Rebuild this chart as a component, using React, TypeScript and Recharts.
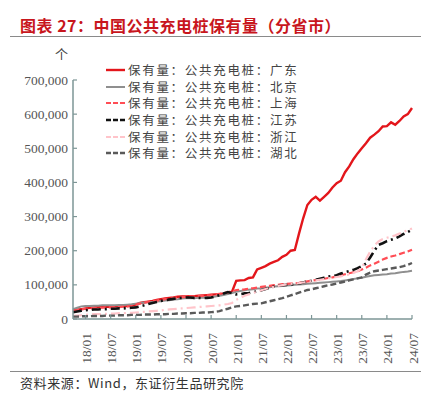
import React from 'react';
import { LineChart, Line, XAxis, YAxis } from 'recharts';

const months = [
  '17/10','17/11','17/12',
  '18/01','18/02','18/03','18/04','18/05','18/06','18/07','18/08','18/09','18/10','18/11','18/12',
  '19/01','19/02','19/03','19/04','19/05','19/06','19/07','19/08','19/09','19/10','19/11','19/12',
  '20/01','20/02','20/03','20/04','20/05','20/06','20/07','20/08','20/09','20/10','20/11','20/12',
  '21/01','21/02','21/03','21/04','21/05','21/06','21/07','21/08','21/09','21/10','21/11','21/12',
  '22/01','22/02','22/03','22/04','22/05','22/06','22/07','22/08','22/09','22/10','22/11','22/12',
  '23/01','23/02','23/03','23/04','23/05','23/06','23/07','23/08','23/09','23/10','23/11','23/12',
  '24/01','24/02','24/03','24/04','24/05','24/06','24/07',
];

const tickLabels = ['18/01','18/07','19/01','19/07','20/01','20/07','21/01','21/07','22/01','22/07','23/01','23/07','24/01','24/07'];
const yTicks = [0, 100, 200, 300, 400, 500, 600, 700];

// values in thousands of piles
const guangdong = [
  25, 27, 29,
  31, 33, 34, 35, 35, 36, 36, 37, 37, 38, 38, 39,
  42, 47, 49, 51, 53, 56, 58, 60, 62, 63, 65, 66,
  66, 67, 67, 68, 69, 70, 71, 72, 73, 74, 75, 80,
  112, 113, 114, 120, 122, 145, 150, 155, 162, 167, 172, 182,
  188, 200, 202, 250, 295, 334, 349, 358, 347, 358, 369, 385,
  398, 405, 430, 447, 468, 485, 500, 515, 531, 540, 550, 564,
  565, 576, 569, 580, 593, 600, 618,
];
const beijing = [
  29, 33, 37,
  38, 38, 39, 39, 40, 40, 40, 40, 41, 41, 42, 43,
  45, 47, 48, 49, 50, 51, 52, 54, 55, 57, 58, 60,
  61, 61, 61, 62, 62, 63, 64, 66, 68, 70, 73, 76,
  80, 82, 84, 86, 87, 89, 90, 92, 93, 95, 96, 97,
  98, 99, 100, 101, 102, 103, 104, 105, 106, 107, 108, 109,
  110, 111, 113, 115, 117, 119, 121, 124, 126, 128, 129, 130,
  131, 133, 134, 136, 138, 139, 141,
];
const shanghai = [
  24, 26, 28,
  30, 31, 32, 33, 33, 34, 34, 35, 35, 36, 37, 38,
  42, 45, 48, 50, 52, 54, 56, 58, 60, 62, 63, 64,
  65, 66, 66, 67, 68, 69, 70, 72, 74, 76, 78, 82,
  85, 86, 87, 89, 90, 92, 94, 96, 97, 99, 100, 102,
  103, 104, 105, 106, 108, 110, 112, 114, 116, 118, 120, 122,
  125, 128, 131, 134, 137, 140, 145, 150, 157, 162, 168, 174,
  179, 183, 186, 190, 194, 198, 203,
];
const jiangsu = [
  20, 22, 24,
  26, 27, 28, 28, 29, 29, 30, 30, 31, 31, 32, 33,
  34, 37, 40, 44, 47, 50, 53, 55, 57, 59, 61, 62,
  63, 63, 62, 62, 61, 62, 63, 66, 70, 75, 79, 76,
  72, 73, 75, 76, 78, 81, 84, 88, 92, 95, 97, 99,
  100, 101, 102, 104, 107, 110, 112, 115, 118, 121, 124, 126,
  128, 133, 137, 140, 144, 149, 155, 162, 180, 200, 217, 222,
  228, 232, 236, 242, 249, 255, 261,
];
const zhejiang = [
  9, 10, 11,
  12, 13, 14, 14, 15, 15, 16, 16, 17, 17, 18, 18,
  19, 20, 21, 22, 23, 24, 25, 27, 28, 29, 30, 31,
  32, 33, 34, 35, 36, 37, 38, 39, 40, 42, 44, 47,
  56, 62, 68, 72, 76, 80, 84, 88, 91, 94, 97, 99,
  101, 103, 104, 105, 107, 109, 111, 113, 115, 117, 119, 121,
  123, 125, 128, 131, 135, 140, 150, 175, 197, 215, 227, 234,
  238, 241, 245, 250, 255, 260, 265,
];
const hubei = [
  7, 7, 8,
  8, 8, 9, 9, 9, 10, 10, 10, 11, 11, 11, 12,
  12, 12, 13, 13, 13, 14, 14, 14, 15, 15, 16, 16,
  17, 17, 18, 18, 19, 19, 20, 21, 23, 27, 30, 34,
  37, 38, 40, 42, 44, 45, 46, 49, 52, 55, 58, 61,
  65, 69, 73, 77, 81, 85, 87, 90, 93, 96, 99, 101,
  104, 107, 110, 113, 116, 119, 122, 130, 136, 140, 142, 144,
  146, 148, 150, 152, 155, 159, 164,
];

const series = [
  { key: 'gd', name: '保有量：公共充电桩：广东', values: guangdong, color: '#e3161b', width: 2.4, dash: undefined },
  { key: 'bj', name: '保有量：公共充电桩：北京', values: beijing, color: '#8f8f8f', width: 2, dash: undefined },
  { key: 'sh', name: '保有量：公共充电桩：上海', values: shanghai, color: '#ff4d55', width: 2.2, dash: '6 3' },
  { key: 'js', name: '保有量：公共充电桩：江苏', values: jiangsu, color: '#111111', width: 2.6, dash: '9 4 2 4' },
  { key: 'zj', name: '保有量：公共充电桩：浙江', values: zhejiang, color: '#ffc4ca', width: 2.2, dash: '9 4 2 4' },
  { key: 'hb', name: '保有量：公共充电桩：湖北', values: hubei, color: '#5a5a5a', width: 2.4, dash: '6 3' },
];

const data = months.map((m, i) => {
  const row: Record<string, number | string> = { month: m };
  series.forEach((s) => { row[s.key] = s.values[i]; });
  return row;
});

const AXIS_COLOR = '#7d9696';
const SERIF = '"Liberation Serif", "DejaVu Serif", serif';
const CJK = '"Noto Sans CJK SC", "Noto Sans", sans-serif';

const YTick = (props: any) => {
  const { x, y, payload } = props;
  const label = (payload.value * 1000).toLocaleString('en-US');
  return (
    <g>
      <line x1={x} y1={y} x2={x + 4} y2={y} stroke={AXIS_COLOR} strokeWidth={1.2} />
      <text x={x - 5} y={y} textAnchor="end" dominantBaseline="central" fontFamily={SERIF} fontSize={13.5} fill="#555">
        {label}
      </text>
    </g>
  );
};

const XTick = (props: any) => {
  const { x, y, payload } = props;
  return (
    <g>
      <line x1={x} y1={y} x2={x} y2={y - 4} stroke={AXIS_COLOR} strokeWidth={1.2} />
      <text
        x={x + 1}
        y={y + 14}
        transform={`rotate(-90, ${x + 1}, ${y + 14})`}
        textAnchor="end"
        dominantBaseline="central"
        fontFamily={SERIF}
        fontSize={13.5}
        fill="#555"
      >
        {payload.value}
      </text>
    </g>
  );
};

const LegendSwatch = ({ color, dash, width }: { color: string; dash?: string; width: number }) => (
  <svg width={19} height={6} style={{ display: 'block' }}>
    <line x1={0} y1={3} x2={19} y2={3} stroke={color} strokeWidth={width} strokeDasharray={dash} />
  </svg>
);

export default function App() {
  return (
    <div style={{ position: 'absolute', left: 0, top: 0, width: 441, height: 393, background: '#fff', overflow: 'hidden' }}>
      <div
        style={{
          position: 'absolute', left: 20, top: 14, fontFamily: CJK, fontSize: 16, fontWeight: 700,
          color: '#c8161d', whiteSpace: 'nowrap', lineHeight: '22px', letterSpacing: 0.5,
        }}
      >
        图表 27：中国公共充电桩保有量（分省市）
      </div>
      <div style={{ position: 'absolute', left: 10, top: 36, width: 411, height: 0, borderTop: '1.5px solid #8a8a8a' }} />
      <div style={{ position: 'absolute', left: 55, top: 44, fontFamily: CJK, fontSize: 13, color: '#444' }}>个</div>

      <div style={{ position: 'absolute', left: 0, top: 0 }}>
        <LineChart width={441} height={393} data={data} margin={{ top: 80, right: 29, bottom: 0, left: 0 }}>
          <XAxis
            dataKey="month"
            type="category"
            ticks={tickLabels}
            interval={0}
            height={74}
            tickSize={0}
            tickMargin={0}
            tick={<XTick />}
            axisLine={{ stroke: AXIS_COLOR, strokeWidth: 1.5 }}
            tickLine={false}
          />
          <YAxis
            width={73}
            domain={[0, 700]}
            ticks={yTicks}
            interval={0}
            tickSize={0}
            tickMargin={0}
            tick={<YTick />}
            axisLine={{ stroke: AXIS_COLOR, strokeWidth: 1.5 }}
            tickLine={false}
          />
          {series.map((s) => (
            <Line
              key={s.key}
              dataKey={s.key}
              name={s.name}
              stroke={s.color}
              strokeWidth={s.width}
              strokeDasharray={s.dash}
              dot={false}
              activeDot={false}
              type="linear"
              isAnimationActive={false}
            />
          ))}
        </LineChart>
      </div>

      <div style={{ position: 'absolute', left: 106, top: 62 }}>
        {series.map((s) => (
          <div key={s.key} style={{ display: 'flex', alignItems: 'center', height: 16.6 }}>
            <LegendSwatch color={s.color} dash={s.dash ? '5 2' : undefined} width={s.width} />
            <span style={{ marginLeft: 3, fontFamily: CJK, fontSize: 12.5, color: '#444', letterSpacing: 1.7, whiteSpace: 'nowrap', lineHeight: '14px' }}>
              {s.name}
            </span>
          </div>
        ))}
      </div>

      <div style={{ position: 'absolute', left: 10, top: 371, width: 411, height: 0, borderTop: '1.5px solid #8a8a8a' }} />
      <div style={{ position: 'absolute', left: 20, top: 374, fontFamily: CJK, fontSize: 13, color: '#333', whiteSpace: 'nowrap', lineHeight: '18px', letterSpacing: 0.6 }}>
        资料来源：Wind，东证衍生品研究院
      </div>
    </div>
  );
}
